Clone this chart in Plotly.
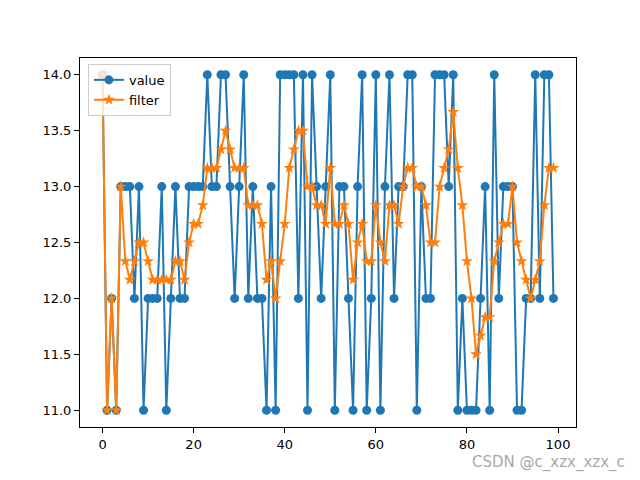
import plotly.graph_objects as go

x_index = list(range(100))

value = [14, 11, 12, 11, 13, 13, 13, 12, 13, 11,
         12, 12, 12, 13, 11, 12, 13, 12, 12, 13,
         13, 13, 13, 14, 13, 13, 14, 14, 13, 12,
         13, 14, 12, 13, 12, 12, 11, 13, 11, 14,
         14, 14, 14, 12, 14, 11, 14, 13, 12, 13,
         14, 11, 13, 13, 12, 11, 13, 14, 11, 12,
         14, 11, 13, 14, 12, 13, 13, 14, 14, 11,
         13, 12, 12, 14, 14, 14, 13, 14, 11, 12,
         11, 11, 11, 12, 13, 11, 14, 12, 13, 13,
         13, 11, 11, 12, 12, 14, 12, 14, 14, 12]

filter_vals = [14.0, 11.0, 12.0, 11.0, 13.0, 12.333, 12.167, 12.333, 12.5, 12.5,
               12.333, 12.167, 12.167, 12.167, 12.167, 12.167, 12.333, 12.333, 12.167, 12.5,
               12.667, 12.667, 12.833, 13.167, 13.167, 13.167, 13.333, 13.5, 13.333, 13.167,
               13.167, 13.167, 12.833, 12.833, 12.833, 12.667, 12.167, 12.333, 12.0, 12.333,
               12.667, 13.167, 13.333, 13.5, 13.5, 13.0, 13.0, 12.833, 12.833, 12.667,
               13.167, 12.667, 12.667, 12.833, 12.667, 12.167, 12.5, 12.667, 12.333, 12.333,
               12.833, 12.5, 12.333, 12.833, 12.833, 12.667, 13.0, 13.167, 13.167, 13.0,
               13.0, 12.833, 12.5, 12.5, 13.0, 13.167, 13.333, 13.667, 13.167, 12.833,
               12.333, 12.0, 11.5, 11.667, 11.833, 11.833, 12.333, 12.5, 12.667, 12.667,
               13.0, 12.5, 12.333, 12.167, 12.0, 12.167, 12.333, 12.833, 13.167, 13.167]

x_ticks = [0, 20, 40, 60, 80, 100]
y_ticks = [11.0, 11.5, 12.0, 12.5, 13.0, 13.5, 14.0]

fig = go.Figure()
fig.add_trace(go.Scatter(
    x=x_index, y=value, name="value", mode="lines+markers",
    line=dict(color="#1f77b4", width=2),
    marker=dict(symbol="circle", size=9, color="#1f77b4"),
))
fig.add_trace(go.Scatter(
    x=x_index, y=filter_vals, name="filter", mode="lines+markers",
    line=dict(color="#ff7f0e", width=2),
    marker=dict(symbol="star", size=9, color="#ff7f0e"),
))

axis_common = dict(
    showgrid=False, zeroline=False, showline=True, linecolor="black",
    linewidth=1, mirror=True, ticks="outside", ticklen=5, tickcolor="black",
    tickfont=dict(family="DejaVu Sans", size=13, color="black"),
)
fig.update_xaxes(range=[-4.95, 103.95], tickvals=x_ticks,
                 ticktext=[str(t) for t in x_ticks], **axis_common)
fig.update_yaxes(range=[10.85, 14.15], tickvals=y_ticks,
                 ticktext=[f"{t:.1f}" for t in y_ticks], **axis_common)

fig.update_layout(
    width=640, height=480,
    margin=dict(l=72, r=72, t=50, b=61),
    paper_bgcolor="white", plot_bgcolor="white",
    font=dict(family="DejaVu Sans", size=13, color="black"),
    legend=dict(x=0.016, y=0.984, xanchor="left", yanchor="top",
                bgcolor="rgba(255,255,255,0.8)", bordercolor="#cccccc",
                borderwidth=1, font=dict(size=13), tracegroupgap=3),
    showlegend=True,
    annotations=[dict(text="CSDN @c_xzx_xzx_c", xref="paper", yref="paper",
                      x=0.944, y=-0.095, xanchor="center", yanchor="middle",
                      showarrow=False,
                      font=dict(family="DejaVu Sans", size=15, color="#a8a8a8"))],
)

fig.write_html("out.html")
